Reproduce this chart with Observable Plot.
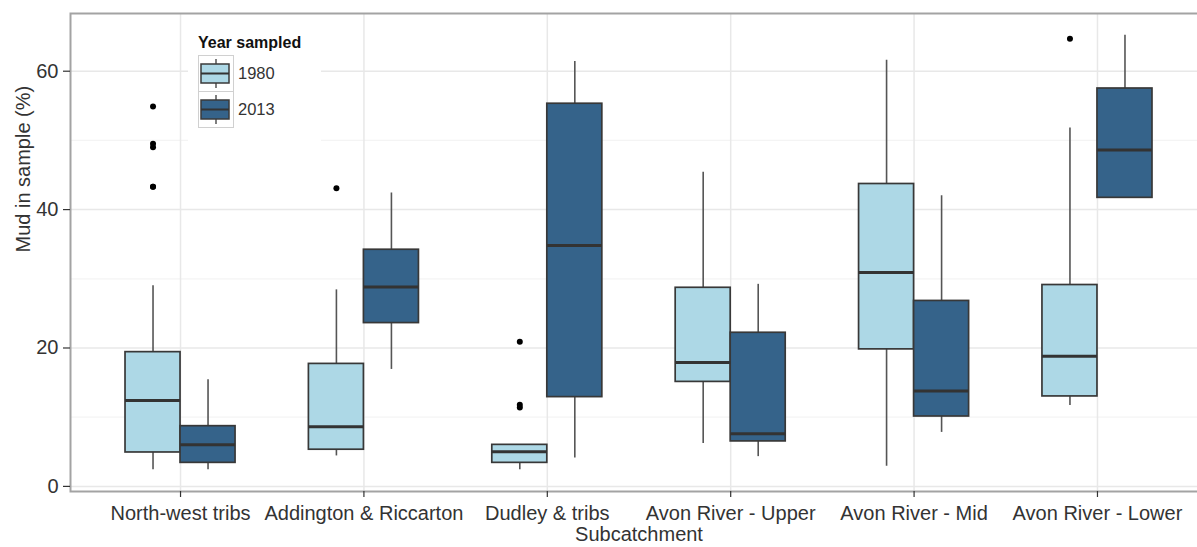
<!DOCTYPE html>
<html>
<head>
<meta charset="utf-8">
<script src="https://cdn.jsdelivr.net/npm/d3@7"></script>
<script src="https://cdn.jsdelivr.net/npm/@observablehq/plot@0.6"></script>
<style>
  html, body { margin: 0; padding: 0; background: #fff; overflow: hidden; }
  #wrap { position: relative; width: 1197px; height: 547px; font-family: "Liberation Sans", Arial, sans-serif; }
  #wrap svg.plot { overflow: hidden; }
  #legend { position: absolute; left: 188px; top: 26px; }
</style>
</head>
<body>
<div id="wrap"><div id="chart"></div><div id="legend"></div></div>
<script>
// ---- data ----
const categories = ["North-west tribs", "Addington & Riccarton", "Dudley & tribs", "Avon River - Upper", "Avon River - Mid", "Avon River - Lower"];
const years = ["1980", "2013"];
const yearColors = ["#ADD8E6", "#35638A"];

// 1980 box statistics per category
const low1980    = [2.4, 4.4, 2.4, 6.2, 2.9, 11.7];
const q1_1980    = [4.9, 5.3, 3.4, 15.1, 19.8, 13.0];
const median1980 = [12.4, 8.6, 5.0, 17.9, 30.9, 18.8];
const q3_1980    = [19.4, 17.7, 6.0, 28.7, 43.7, 29.1];
const high1980   = [29.0, 28.4, 6.0, 45.4, 61.6, 51.8];

// 2013 box statistics per category
const low2013    = [2.4, 16.9, 4.1, 4.3, 7.8, 41.7];
const q1_2013    = [3.4, 23.6, 12.9, 6.5, 10.1, 41.7];
const median2013 = [6.0, 28.8, 34.8, 7.6, 13.8, 48.6];
const q3_2013    = [8.7, 34.2, 55.3, 22.2, 26.8, 57.5];
const high2013   = [15.4, 42.4, 61.4, 29.2, 42.0, 65.2];

// outliers
const outlierCategory = [0, 0, 0, 0, 0, 1, 2, 2, 2, 5];
const outlierYear     = ["1980", "1980", "1980", "1980", "1980", "1980", "1980", "1980", "1980", "1980"];
const outlierValue    = [54.9, 49.5, 49.0, 43.3, 43.3, 43.1, 20.9, 11.8, 11.4, 64.7];

const yMajorTicks = [0, 20, 40, 60];
const yMinorTicks = [10, 30, 50];

// ---- build tables ----
const dodge = 0.15, half = 0.15;
const stats = {
  "1980": [low1980, q1_1980, median1980, q3_1980, high1980],
  "2013": [low2013, q1_2013, median2013, q3_2013, high2013]
};
const boxes = [];
categories.forEach((c, i) => {
  years.forEach((y, j) => {
    const [lo, q1, med, q3, hi] = stats[y];
    const xc = i + (j === 0 ? -dodge : dodge);
    boxes.push({cat: c, year: y, x: xc, x1: xc - half, x2: xc + half,
      lo: lo[i], q1: q1[i], med: med[i], q3: q3[i], hi: hi[i]});
  });
});
const outliers = outlierValue.map((v, k) => ({
  x: outlierCategory[k] + (outlierYear[k] === "1980" ? -dodge : dodge), v
}));

const allVals = boxes.flatMap(d => [d.lo, d.hi]).concat(outlierValue);
const vmin = d3.min(allVals), vmax = d3.max(allVals);
const pad = (vmax - vmin) * 0.05;
const catIdx = d3.range(categories.length);

const fontFam = "'Liberation Sans', Arial, sans-serif";
const txt = "#333333";

const chart = Plot.plot({
  width: 1197,
  height: 547,
  marginLeft: 70,
  marginRight: -10,
  marginTop: 13,
  marginBottom: 56,
  style: {fontFamily: fontFam, background: "#fff", overflow: "hidden"},
  x: {domain: [-0.6, categories.length - 0.4], axis: null},
  y: {domain: [vmin - pad, vmax + pad], axis: null},
  color: {domain: years, range: yearColors},
  marks: [
    Plot.ruleY(yMinorTicks, {stroke: "#f4f4f4", strokeWidth: 1.2}),
    Plot.ruleY(yMajorTicks, {stroke: "#e8e8e8", strokeWidth: 1.5}),
    Plot.ruleX(catIdx, {stroke: "#e8e8e8", strokeWidth: 1.5}),
    Plot.ruleX(boxes, {x: "x", y1: "lo", y2: "hi", stroke: "#555", strokeWidth: 1.6}),
    Plot.rect(boxes, {x1: "x1", x2: "x2", y1: "q1", y2: "q3", fill: "year", stroke: "#383838", strokeWidth: 1.7}),
    Plot.ruleY(boxes, {y: "med", x1: "x1", x2: "x2", stroke: "#333", strokeWidth: 3}),
    Plot.dot(outliers, {x: "x", y: "v", r: 3, fill: "#000", stroke: null}),
    Plot.frame({stroke: "#a3a3a3", strokeWidth: 2}),
    Plot.axisY(yMajorTicks, {tickSize: 7, tickPadding: 5, fontSize: 20, stroke: "#333", fill: txt, label: null, strokeWidth: 1.2}),
    Plot.axisX(catIdx, {tickSize: 6, tickPadding: 8, fontSize: 20, stroke: "#333", fill: txt, label: null,
      tickFormat: i => categories[i], strokeWidth: 1.2}),
    Plot.text(["Mud in sample (%)"], {frameAnchor: "left", rotate: -90, dx: -47, fontSize: 20, fill: txt}),
    Plot.text(["Subcatchment"], {frameAnchor: "bottom", dy: 49, fontSize: 20, fill: txt})
  ]
});
chart.classList.add("plot");
document.getElementById("chart").appendChild(chart);

// ---- legend ----
const lg = d3.select("#legend").append("svg")
  .attr("width", 133).attr("height", 120)
  .style("display", "block")
  .style("font-family", fontFam);
lg.append("rect").attr("width", 133).attr("height", 120).attr("fill", "#fff");
lg.append("text").attr("x", 10).attr("y", 22).attr("font-size", 16).attr("font-weight", "bold")
  .attr("fill", "#111").text("Year sampled");
years.forEach((y, j) => {
  const top = 29 + j * 36;
  const g = lg.append("g").attr("transform", `translate(10,${top})`);
  g.append("rect").attr("x", 0.5).attr("y", 0.5).attr("width", 35).attr("height", 36)
    .attr("fill", "#fff").attr("stroke", "#d0d0d0").attr("stroke-width", 1);
  g.append("line").attr("x1", 18).attr("x2", 18).attr("y1", 4).attr("y2", 33).attr("stroke", "#555").attr("stroke-width", 1.5);
  g.append("rect").attr("x", 3).attr("y", 9).attr("width", 28).attr("height", 19)
    .attr("fill", yearColors[j]).attr("stroke", "#3a3a3a").attr("stroke-width", 1.5);
  g.append("line").attr("x1", 3).attr("x2", 31).attr("y1", 18.5).attr("y2", 18.5).attr("stroke", "#333").attr("stroke-width", 2);
  lg.append("text").attr("x", 50).attr("y", top + 18).attr("dy", "0.35em")
    .attr("font-size", 16.5).attr("fill", txt).text(y);
});
</script>
</body>
</html>
